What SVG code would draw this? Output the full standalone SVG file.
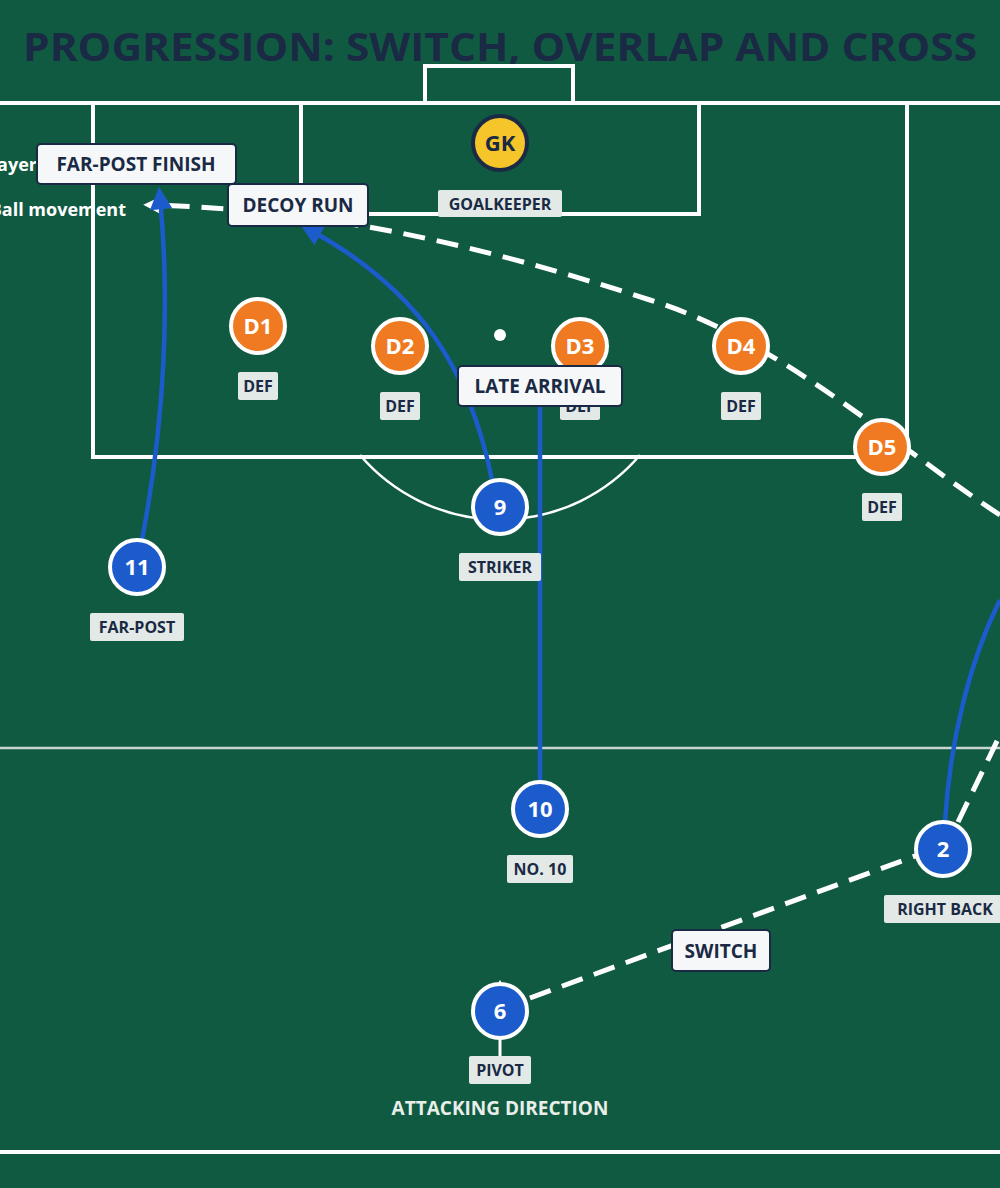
<svg xmlns="http://www.w3.org/2000/svg" width="1000" height="1188" viewBox="0 0 1000 1188">
<defs>
<style>
text{font-family:"Open Sans","Noto Sans",sans-serif;font-weight:700}
.ln{fill:none;stroke:#fff;stroke-width:4}
.run{fill:none;stroke:#1c5bcc;stroke-width:4.5}
.pass{fill:none;stroke:#fff;stroke-width:5;stroke-dasharray:22 12}
.att{fill:#1c5bcc;stroke:#fff;stroke-width:4}
.def{fill:#f07a22;stroke:#fff;stroke-width:4}
.num{fill:#fff;font-size:22px;text-anchor:middle}
.tag rect{fill:#e2e9e6}
.tag text{fill:#1a2a44;font-size:16px;text-anchor:middle}
.call rect{fill:#f5f7f8;stroke:#1a2a44;stroke-width:2}
.call text{fill:#1a2a44;font-size:19px;text-anchor:middle}
</style>
<marker id="ab" viewBox="0 0 10 10" refX="5" refY="5" markerWidth="5" markerHeight="5" orient="auto-start-reverse"><path d="M0,0L10,5L0,10z" fill="#1c5bcc"/></marker>
<marker id="aw" viewBox="0 0 10 10" refX="5" refY="5" markerWidth="3.5" markerHeight="3.5" orient="auto"><path d="M0,0L10,5L0,10z" fill="#fff"/></marker>
</defs>
<rect width="1000" height="1188" fill="#115a42"/>
<text x="500" y="61" text-anchor="middle" font-size="40" fill="#1a2a44" textLength="954" lengthAdjust="spacingAndGlyphs">PROGRESSION: SWITCH, OVERLAP AND CROSS</text>
<g id="pitch">
<line class="ln" x1="0" y1="103" x2="1000" y2="103"/>
<rect class="ln" x="425" y="66" width="148" height="37"/>
<rect class="ln" x="93" y="103" width="814" height="354"/>
<rect class="ln" x="301" y="103" width="398" height="111"/>
<circle cx="500" cy="335" r="6" fill="#fff"/>
<path d="M360,455 A184,184 0 0 0 640,455" fill="none" stroke="#fff" stroke-width="2.5"/>
<line x1="0" y1="748" x2="1000" y2="748" stroke="#c9d6cf" stroke-width="2.5"/>
<line class="ln" x1="0" y1="1152" x2="1000" y2="1152"/>
<line x1="500" y1="1062" x2="500" y2="985" stroke="#fff" stroke-width="3" marker-end="url(#aw)"/>
<text x="500" y="1115" text-anchor="middle" font-size="19" fill="#e8efe9">ATTACKING DIRECTION</text>
<text x="37" y="171" text-anchor="end" font-size="18" fill="#fff">Player</text>
<text x="126" y="216" text-anchor="end" font-size="18" fill="#fff">Ball movement</text>
</g>
<g id="connectors">
<path class="pass" d="M1000,515 C900,450 780,340 650,300 C480,245 330,210 152,205" marker-end="url(#aw)"/>
<path class="pass" d="M530,998 L918,855"/>
<path class="pass" d="M958,822 L1000,735"/>
<path class="run" d="M142,540 C165,420 170,300 160,198" marker-end="url(#ab)"/>
<path class="run" d="M492,480 C470,370 420,290 310,230" marker-end="url(#ab)"/>
<path class="run" d="M540,782 L540,395"/>
<path class="run" d="M945,822 C950,740 970,660 1000,600"/>
</g>
<g id="gk"><circle cx="500" cy="143" r="27" fill="#f5c52a" stroke="#1a2a44" stroke-width="4"/><text x="500" y="151" font-size="22" fill="#1a2a44" text-anchor="middle">GK</text><g class="tag"><rect x="438" y="190" width="124" height="27" rx="2"/><text x="500" y="210">GOALKEEPER</text></g></g>
<g id="d1"><circle class="def" cx="258" cy="326" r="27"/><text class="num" x="258" y="334">D1</text><g class="tag"><rect x="238" y="372" width="40" height="28" rx="2"/><text x="258" y="392">DEF</text></g></g>
<g id="d2"><circle class="def" cx="400" cy="346" r="27"/><text class="num" x="400" y="354">D2</text><g class="tag"><rect x="380" y="392" width="40" height="28" rx="2"/><text x="400" y="412">DEF</text></g></g>
<g id="d3"><circle class="def" cx="580" cy="346" r="27"/><text class="num" x="580" y="354">D3</text><g class="tag"><rect x="560" y="392" width="40" height="28" rx="2"/><text x="580" y="412">DEF</text></g></g>
<g id="d4"><circle class="def" cx="741" cy="346" r="27"/><text class="num" x="741" y="354">D4</text><g class="tag"><rect x="721" y="392" width="40" height="28" rx="2"/><text x="741" y="412">DEF</text></g></g>
<g id="d5"><circle class="def" cx="882" cy="447" r="27"/><text class="num" x="882" y="455">D5</text><g class="tag"><rect x="862" y="493" width="40" height="28" rx="2"/><text x="882" y="513">DEF</text></g></g>
<g id="p9"><circle class="att" cx="500" cy="507" r="27"/><text class="num" x="500" y="515">9</text><g class="tag"><rect x="459" y="553" width="82" height="28" rx="2"/><text x="500" y="573">STRIKER</text></g></g>
<g id="p11"><circle class="att" cx="137" cy="567" r="27"/><text class="num" x="137" y="575">11</text><g class="tag"><rect x="90" y="613" width="94" height="28" rx="2"/><text x="137" y="633">FAR-POST</text></g></g>
<g id="p10"><circle class="att" cx="540" cy="809" r="27"/><text class="num" x="540" y="817">10</text><g class="tag"><rect x="507" y="855" width="66" height="28" rx="2"/><text x="540" y="875">NO. 10</text></g></g>
<g id="p2"><circle class="att" cx="943" cy="849" r="27"/><text class="num" x="943" y="857">2</text><g class="tag"><rect x="884" y="895" width="122" height="28" rx="2"/><text x="945" y="915">RIGHT BACK</text></g></g>
<g id="p6"><circle class="att" cx="500" cy="1011" r="27"/><text class="num" x="500" y="1019">6</text><g class="tag"><rect x="469" y="1056" width="62" height="28" rx="2"/><text x="500" y="1076">PIVOT</text></g></g>
<g id="lbl-farpost" class="call"><rect x="37" y="144" width="199" height="40" rx="4"/><text x="136" y="171">FAR-POST FINISH</text></g>
<g id="lbl-decoy" class="call"><rect x="228" y="184" width="140" height="42" rx="4"/><text x="298" y="212">DECOY RUN</text></g>
<g id="lbl-late" class="call"><rect x="458" y="366" width="164" height="40" rx="4"/><text x="540" y="393">LATE ARRIVAL</text></g>
<g id="lbl-switch" class="call"><rect x="672" y="930" width="98" height="41" rx="4"/><text x="721" y="958">SWITCH</text></g>
</svg>
